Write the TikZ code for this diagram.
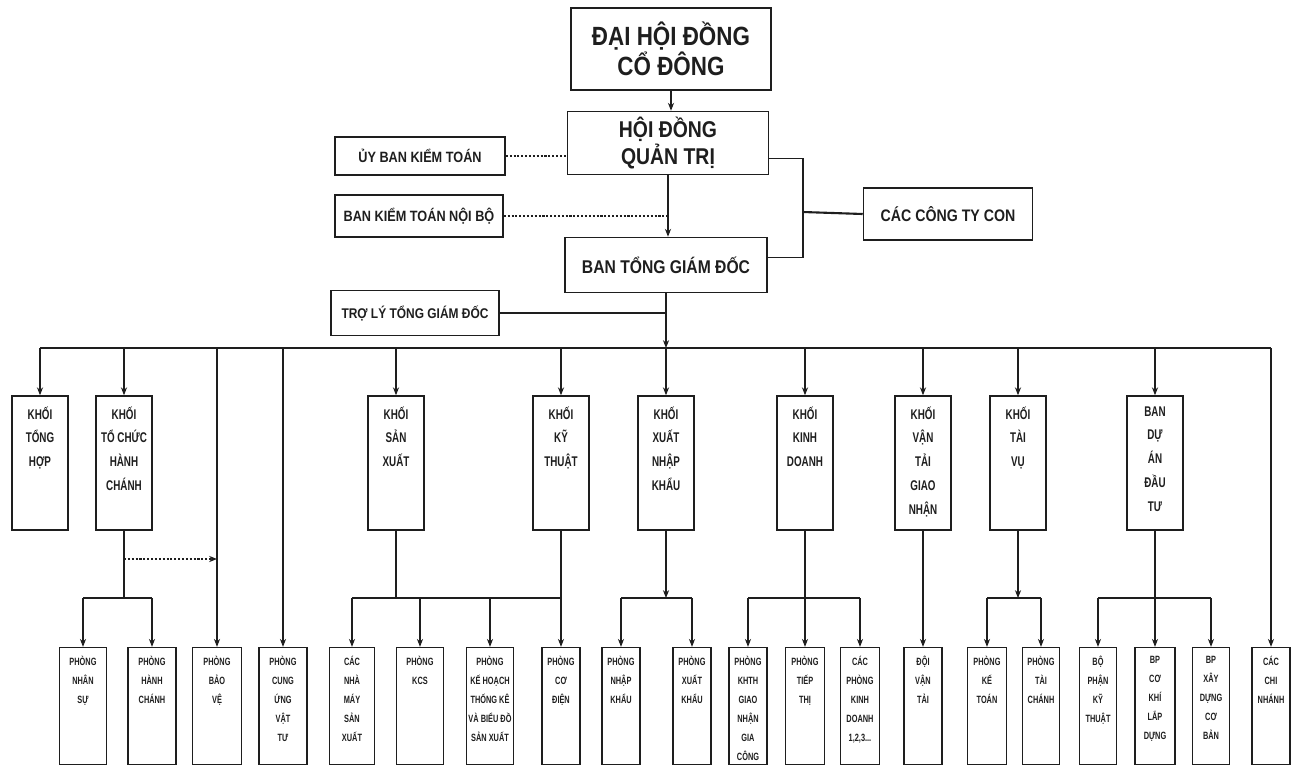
\documentclass[tikz,border=0pt]{standalone}
\usepackage{fontspec}
\usepackage{tikz}
\usetikzlibrary{arrows.meta}
\newfontfamily\orgfont[FakeStretch=0.85]{Liberation Sans}
\newfontfamily\narrowfont[FakeStretch=0.7]{Liberation Sans}
\definecolor{inkdark}{RGB}{30,30,30}
% tall boxes keep their text at the top
\newcommand{\khoitext}[1]{\parbox[c][2.68cm][t]{1.12cm}{\centering\vspace*{6pt}#1}}
\newcommand{\phongtext}[2]{\parbox[c][2.34cm][t]{#1}{\centering\vspace*{5pt}#2}}

\begin{document}
\begin{tikzpicture}[x=0.02cm, y=-0.02cm,
  orgbox/.style={draw=inkdark, line width=0.9pt, inner sep=0pt, text=inkdark},
  headbox/.style={orgbox, align=center, font=\orgfont\bfseries\fontsize{15}{17}\selectfont},
  boardbox/.style={orgbox, align=center, font=\orgfont\bfseries\fontsize{13}{15}\selectfont},
  sidebox/.style={orgbox, align=center, font=\orgfont\bfseries\fontsize{8.5}{10}\selectfont},
  khoibox/.style={orgbox, font=\narrowfont\bfseries\fontsize{8}{13.5}\selectfont},
  phongbox/.style={orgbox, line width=0.8pt, font=\narrowfont\bfseries\fontsize{6}{10.8}\selectfont},
  link/.style={draw=inkdark, line width=0.6pt},
  arr/.style={link, -{Stealth[length=4.5pt,width=3.5pt]}},
  dotlink/.style={link, line width=0.8pt, dash pattern=on 1.2pt off 1pt}]
\useasboundingbox (0,0) rectangle (1295,778);
% levels of the horizontal buses
\coordinate (bus) at (0,348);
\coordinate (sub) at (0,598);
\coordinate (hint) at (0,559);
\coordinate (brk) at (803,212);

% top of the chart
\node[headbox, minimum width=4cm, minimum height=1.64cm] (dhdcd) at (671,49) {ĐẠI HỘI ĐỒNG\\CỔ ĐÔNG};
\node[boardbox, minimum width=4.02cm, minimum height=1.26cm] (hdqt) at (668,143) {HỘI ĐỒNG\\QUẢN TRỊ};
\node[boardbox, font=\orgfont\bfseries\fontsize{10.5}{13}\selectfont,
  minimum width=4.04cm, minimum height=1.1cm] (btgd) at (666,265) {BAN TỔNG GIÁM ĐỐC};
\node[sidebox, minimum width=3.4cm, minimum height=0.76cm] (ubkt) at (420,156) {ỦY BAN KIỂM TOÁN};
\node[sidebox, minimum width=3.36cm, minimum height=0.84cm] (bktnb) at (419,216) {BAN KIỂM TOÁN NỘI BỘ};
\node[sidebox, font=\orgfont\bfseries\fontsize{9.5}{11}\selectfont,
  minimum width=3.38cm, minimum height=1.04cm] (cty) at (948,214) {CÁC CÔNG TY CON};
\node[sidebox, font=\orgfont\bfseries\fontsize{8}{10}\selectfont,
  minimum width=3.36cm, minimum height=0.9cm] (trolyg) at (415,313) {TRỢ LÝ TỔNG GIÁM ĐỐC};

\draw[arr] (dhdcd.south) -- (dhdcd.south |- hdqt.north);
\draw[arr] (hdqt.south) -- (hdqt.south |- btgd.north);
\draw[dotlink] (ubkt.east) -- (ubkt.east -| hdqt.west);
\draw[dotlink] (bktnb.east) -- (bktnb.east -| hdqt.south);
\draw[link] ([yshift=-9pt]hdqt.east) -| (brk) |- ([yshift=4.5pt]btgd.east);
\draw[link, line width=1.2pt] (brk) -- (cty.west);
\draw[link, line width=1pt] (trolyg.east) -- (trolyg.east -| btgd.south);

% khoi row
\node[khoibox] (kth) at (40,463) {\khoitext{KHỐI\\TỔNG\\HỢP}};
\node[khoibox] (ktchc) at (124,463) {\khoitext{KHỐI\\TỔ CHỨC\\HÀNH\\CHÁNH}};
\node[khoibox] (ksx) at (396,463) {\khoitext{KHỐI\\SẢN\\XUẤT}};
\node[khoibox] (kkt) at (561,463) {\khoitext{KHỐI\\KỸ\\THUẬT}};
\node[khoibox] (kxnk) at (666,463) {\khoitext{KHỐI\\XUẤT\\NHẬP\\KHẨU}};
\node[khoibox] (kkd) at (805,463) {\khoitext{KHỐI\\KINH\\DOANH}};
\node[khoibox] (kvt) at (923,463) {\khoitext{KHỐI\\VẬN\\TẢI\\GIAO\\NHẬN}};
\node[khoibox] (ktv) at (1018,463) {\khoitext{KHỐI\\TÀI\\VỤ}};
\node[khoibox] (bda) at (1155,463) {\khoitext{BAN\\DỰ\\ÁN\\ĐẦU\\TƯ}};

% phong row
\node[phongbox] (pns) at (83,706) {\phongtext{0.94cm}{PHÒNG\\NHÂN\\SỰ}};
\node[phongbox] (phc) at (152,706) {\phongtext{0.96cm}{PHÒNG\\HÀNH\\CHÁNH}};
\node[phongbox] (pbv) at (217,706) {\phongtext{0.98cm}{PHÒNG\\BẢO\\VỆ}};
\node[phongbox] (pcu) at (283,706) {\phongtext{0.96cm}{PHÒNG\\CUNG\\ỨNG\\VẬT\\TƯ}};
\node[phongbox] (nmsx) at (352,706) {\phongtext{0.9cm}{CÁC\\NHÀ\\MÁY\\SẢN\\XUẤT}};
\node[phongbox] (kcs) at (420,706) {\phongtext{0.94cm}{PHÒNG\\KCS}};
\node[phongbox] (khtk) at (490,706) {\phongtext{0.94cm}{PHÒNG\\KẾ HOẠCH\\THỐNG KÊ\\VÀ BIỂU ĐỒ\\SẢN XUẤT}};
\node[phongbox] (pcd) at (561,706) {\phongtext{0.76cm}{PHÒNG\\CƠ\\ĐIỆN}};
\node[phongbox] (pnk) at (621,706) {\phongtext{0.76cm}{PHÒNG\\NHẬP\\KHẨU}};
\node[phongbox] (pxk) at (692,706) {\phongtext{0.76cm}{PHÒNG\\XUẤT\\KHẨU}};
\node[phongbox] (pkhth) at (748,706) {\phongtext{0.76cm}{PHÒNG\\KHTH\\GIAO\\NHẬN\\GIA\\CÔNG}};
\node[phongbox] (ptt) at (805,706) {\phongtext{0.78cm}{PHÒNG\\TIẾP\\THỊ}};
\node[phongbox] (pkd) at (860,706) {\phongtext{0.78cm}{CÁC\\PHÒNG\\KINH\\DOANH\\1,2,3...}};
\node[phongbox] (dvt) at (923,706) {\phongtext{0.76cm}{ĐỘI\\VẬN\\TẢI}};
\node[phongbox] (pkt) at (987,706) {\phongtext{0.78cm}{PHÒNG\\KẾ\\TOÁN}};
\node[phongbox] (ptc) at (1041,706) {\phongtext{0.74cm}{PHÒNG\\TÀI\\CHÁNH}};
\node[phongbox] (bpkt) at (1098,706) {\phongtext{0.74cm}{BỘ\\PHẬN\\KỸ\\THUẬT}};
\node[phongbox] (bpck) at (1155,706) {\phongtext{0.8cm}{BP\\CƠ\\KHÍ\\LẮP\\DỰNG}};
\node[phongbox] (bpxd) at (1211,706) {\phongtext{0.74cm}{BP\\XÂY\\DỰNG\\CƠ\\BẢN}};
\node[phongbox] (ccn) at (1271,706) {\phongtext{0.76cm}{CÁC\\CHI\\NHÁNH}};

% main bus under the director board
\draw[arr] (btgd.south) -- (btgd.south |- bus);
\draw[link] (kth.north |- bus) -- (ccn.north |- bus);
\foreach \n in {kth,ktchc,ksx,kkt,kxnk,kkd,kvt,ktv,bda,pbv,pcu,ccn}
  \draw[arr] (\n.north |- bus) -- (\n.north);

% branches down to the departments
\foreach \k in {ktchc,ksx}
  \draw[link] (\k.south) -- (\k.south |- sub);
\foreach \k in {kxnk,ktv}
  \draw[arr] (\k.south) -- (\k.south |- sub);
\draw[arr] (kkt.south) -- (pcd.north);
\draw[arr] (kkd.south) -- (ptt.north);
\draw[arr] (kvt.south) -- (dvt.north);
\draw[arr] (bda.south) -- (bpck.north);
\draw[link] (pns.north |- sub) -- (phc.north |- sub);
\draw[link] (nmsx.north |- sub) -- (pcd.north |- sub);
\draw[link] (pnk.north |- sub) -- (pxk.north |- sub);
\draw[link] (pkhth.north |- sub) -- (pkd.north |- sub);
\draw[link] (pkt.north |- sub) -- (ptc.north |- sub);
\draw[link] (bpkt.north |- sub) -- (bpxd.north |- sub);
\foreach \n in {pns,phc,nmsx,kcs,khtk,pnk,pxk,pkhth,pkd,pkt,ptc,bpkt,bpxd}
  \draw[arr] (\n.north |- sub) -- (\n.north);
\draw[dotlink, -{Stealth[length=4.5pt,width=3.5pt]}] (ktchc.south |- hint) -- (pbv.north |- hint);
\end{tikzpicture}
\end{document}
